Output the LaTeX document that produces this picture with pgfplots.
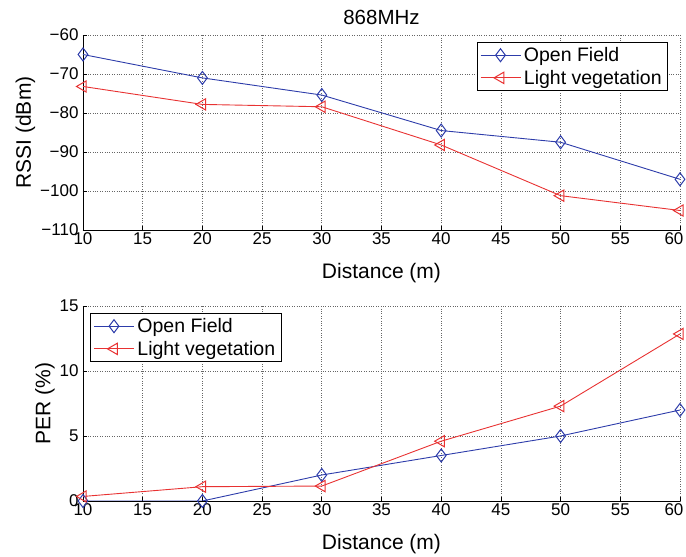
\documentclass[border=0pt]{standalone}
\usepackage{pgfplots}
\pgfplotsset{compat=1.18}
\usepackage{fontspec}
\setmainfont{Liberation Sans}
\definecolor{mblue}{RGB}{45,60,170}
\definecolor{mred}{RGB}{232,50,50}
\begin{document}
\begin{tikzpicture}[x=1pt,y=1pt]
\pgfplotsset{
  every axis/.append style={
    scale only axis, width=597pt, height=195pt,
    xmin=10, xmax=60, xtick={10,15,...,60},
    xticklabels={10,15,20,25,30,35,40,45,50,55,\hspace*{-12pt}60},
    axis x line*=bottom, axis y line*=left,
    axis line style={-, black, line width=0.8pt},
    tick align=inside, major tick length=4pt,
    tick style={black, line width=0.6pt},
    grid=major, grid style={dotted, gray!80!black, line width=0.6pt},
    tick label style={font=\fontsize{17}{20}\selectfont},
    xticklabel style={yshift=1pt},
    yticklabel style={xshift=-1pt},
    label style={font=\fontsize{21}{24}\selectfont},
    legend style={font=\fontsize{19.5}{22}\selectfont, draw=black, line width=0.8pt, inner xsep=3pt, inner ysep=3pt, row sep=3pt,
      nodes={inner xsep=3pt}},
    legend cell align=left,
    legend image code/.code={\draw[mark repeat=2, mark phase=2] plot coordinates {(0pt,0pt) (20pt,0pt) (40pt,0pt)};},
  },
  ofield/.style={mblue, line width=0.9pt, mark=diamond, mark size=6.5pt, mark options={solid, fill=white, line width=1pt}},
  lveg/.style={mred, line width=0.9pt, mark=triangle, mark size=6.5pt, mark options={solid, fill=none, rotate=90, line width=1pt}},
}
\path[use as bounding box] (0,0) rectangle (686,557);
\begin{axis}[at={(83pt,327pt)}, anchor=south west,
  ymin=-110, ymax=-60, ytick={-110,-100,...,-60},
  yticklabels={−110,−100,−90,−80,−70,−60},
  title={\fontsize{20.5}{24}\selectfont 868MHz}, title style={yshift=1pt},
  xlabel={Distance (m)}, ylabel={RSSI (dBm)},
  ylabel style={yshift=-2pt}, xlabel style={yshift=-12pt},
  legend style={at={(0.98,0.964)}, anchor=north east},
]
\addplot[ofield] coordinates {(10,-65) (20,-71) (30,-75.4) (40,-84.5) (50,-87.5) (60,-97)};
\addplot[lveg] coordinates {(10,-73.2) (20,-77.8) (30,-78.4) (40,-88.2) (50,-101.2) (60,-105)};
\legend{Open Field, Light vegetation}
\end{axis}
\begin{axis}[at={(83pt,56pt)}, anchor=south west,
  ymin=0, ymax=15, ytick={0,5,10,15}, yticklabels={0,5,10,15},
  xlabel={Distance (m)}, ylabel={PER (\%)},
  ylabel style={yshift=-2pt}, xlabel style={yshift=-12pt},
  legend style={at={(0.012,0.964)}, anchor=north west},
]
\addplot[ofield] coordinates {(10,0) (20,0) (30,2.0) (40,3.5) (50,5.0) (60,7.0)};
\addplot[lveg] coordinates {(10,0.35) (20,1.1) (30,1.15) (40,4.6) (50,7.3) (60,12.85)};
\legend{Open Field, Light vegetation}
\end{axis}
\end{tikzpicture}
\end{document}
